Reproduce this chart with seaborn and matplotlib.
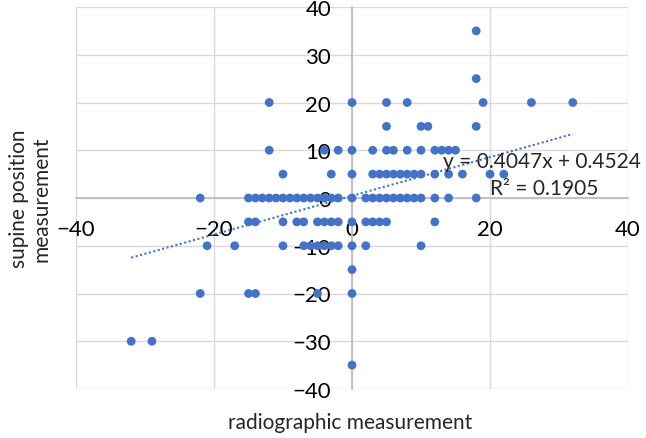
import numpy as np
import pandas as pd
import matplotlib
matplotlib.use("Agg")
import matplotlib.pyplot as plt
import seaborn as sns

# supine position values (y) and the radiographic values (x) seen at each level
supine_levels = [35, 25, 20, 15, 10, 5, 0, -5, -10, -15, -20, -30, -35]
radiographic_by_level = [
    [18],
    [18],
    [-12, 0, 5, 8, 19, 26, 32],
    [5, 10, 11, 18],
    [-12, -4, -2, 0, 3, 5, 6, 8, 10, 12, 13, 14, 15],
    [-10, -3, 0, 3, 4, 5, 6, 7, 8, 9, 10, 12, 14, 16, 20, 22],
    [-22, -15, -14, -13, -12, -11, -10, -9, -8, -7, -6, -5, -4, -3, -2,
     0, 2, 3, 4, 5, 6, 7, 8, 9, 10, 12, 14, 18],
    [-15, -14, -10, -8, -7, -5, -4, -3, -2, 0, 2, 3, 4, 5, 12],
    [-21, -17, -10, -7, -6, -5, -4, -3, -2, 0, 2, 10],
    [0],
    [-22, -15, -14, -5, 0],
    [-32, -29],
    [0],
]

# Excel linear trendline coefficients
slope = 0.4047
intercept = 0.4524
r2 = 0.1905

df = pd.DataFrame(
    [(x, y) for y, xs in zip(supine_levels, radiographic_by_level) for x in xs],
    columns=["radiographic", "supine"],
)

sns.set_style("white")
plt.rcParams['font.family'] = ['Lato', 'DejaVu Sans']

fig = plt.figure(figsize=(6.46, 4.39), dpi=100)
ax = fig.add_axes([76 / 646, 1 - 390 / 439, 552 / 646, 382 / 439])

blue = "#4472C4"
sns.scatterplot(data=df, x="radiographic", y="supine", ax=ax, color=blue,
                s=40, edgecolor="none", zorder=3)

xs = np.array([df["radiographic"].min(), df["radiographic"].max()])
ax.plot(xs, slope * xs + intercept, linestyle=(0, (1, 1.2)), color=blue,
        linewidth=1.5, zorder=2)

ax.set_xlim(-40, 40)
ax.set_ylim(-40, 40)
ax.set_xticks([-40, -20, 0, 20, 40])
ax.set_yticks(range(-40, 41, 10))
ax.grid(True, color="#d9d9d9", linewidth=1)
ax.set_axisbelow(True)

for s in ["top", "right"]:
    ax.spines[s].set_visible(False)
for s in ["left", "bottom"]:
    ax.spines[s].set_position(("data", 0))
    ax.spines[s].set_color("#bfbfbf")
    ax.spines[s].set_linewidth(1.3)
    ax.spines[s].set_zorder(1)

ax.tick_params(axis="x", length=0, pad=15, labelsize=16, labelcolor="black")
ax.tick_params(axis="y", length=0, pad=15, labelsize=16, labelcolor="black")
ax.set_xlabel("")
ax.set_ylabel("")

ax.text(13.2, 7.8, f"y = {slope}x + {intercept}", fontsize=15, ha="left",
        va="center", zorder=4)
ax.text(20.0, 2.1, f"R² = {r2}", fontsize=15, ha="left", va="center", zorder=4)

fig.text(350 / 646, 1 - 423 / 439, "radiographic measurement", fontsize=15,
         ha="center", va="center")
fig.text(30 / 646, 1 - 199 / 439, "supine position\nmeasurement", fontsize=15,
         ha="center", va="center", rotation=90, linespacing=1.15)

fig.savefig("out.png", dpi=100)
